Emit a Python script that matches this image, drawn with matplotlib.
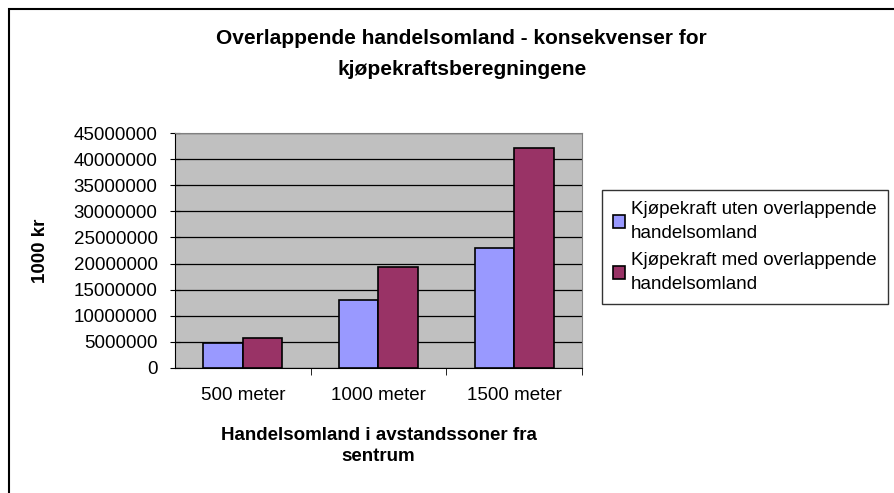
import numpy as np
import matplotlib.pyplot as plt
from matplotlib.patches import Rectangle

plt.rcParams['font.family'] = ['Liberation Sans', 'DejaVu Sans']

# Data
kategorier = ['500 meter', '1000 meter', '1500 meter']
uten_overlapp = [4700000, 13000000, 23000000]
med_overlapp = [5700000, 19400000, 42100000]
serie_navn = ['Kjøpekraft uten overlappende\nhandelsomland',
              'Kjøpekraft med overlappende\nhandelsomland']
y_ticks = np.arange(0, 45000001, 5000000)

# Plotting
fig = plt.figure(figsize=(8.95, 4.93), dpi=100)
ax = fig.add_axes([175 / 895, 1 - 368 / 493, 407 / 895, 235 / 493])

# outer chart frame (right/bottom clipped like the reference)
fig.patches.append(Rectangle((9 / 895, -0.05), 1.0, 1 - 9 / 493 + 0.05,
                             transform=fig.transFigure, fill=False,
                             edgecolor='black', linewidth=1.5))

x = np.arange(len(kategorier))
w = 0.29
ax.bar(x - w / 2, uten_overlapp, w, color='#9999FF', edgecolor='black',
       linewidth=1.2, label=serie_navn[0], zorder=3)
ax.bar(x + w / 2, med_overlapp, w, color='#993366', edgecolor='black',
       linewidth=1.2, label=serie_navn[1], zorder=3)

ax.set_facecolor('#C0C0C0')
ax.set_xlim(-0.5, 2.5)
ax.set_ylim(0, 45000000)
ax.set_yticks(y_ticks)
ax.set_yticklabels([str(v) for v in y_ticks], fontsize=13.5)
ax.yaxis.grid(True, color='black', linewidth=0.9, zorder=1)
ax.set_axisbelow(True)

ax.set_xticks(x)
ax.set_xticklabels(kategorier, fontsize=13.5)
ax.set_xticks([0.5, 1.5, 2.5], minor=True)
ax.tick_params(axis='x', which='major', length=0, pad=14)
ax.tick_params(axis='x', which='minor', length=5, direction='out', color='black')
ax.tick_params(axis='y', length=7, direction='inout', color='black', pad=9)

for s in ['top', 'right']:
    ax.spines[s].set_color('#808080')
for s in ['left', 'bottom']:
    ax.spines[s].set_color('black')

ax.set_ylabel('1000 kr', fontsize=13.5, fontweight='bold', labelpad=18)
ax.set_xlabel('Handelsomland i avstandssoner fra\nsentrum', fontsize=13.5,
              fontweight='bold', labelpad=16, linespacing=1.3)

fig.text(0.516, 1 - 54 / 493, 'Overlappende handelsomland - konsekvenser for\nkjøpekraftsberegningene',
         ha='center', va='center', fontsize=15, fontweight='bold', linespacing=1.85)

leg = ax.legend(loc='upper left', bbox_to_anchor=(602 / 895, 1 - 190 / 493),
                bbox_transform=fig.transFigure, fontsize=13.5, frameon=True,
                fancybox=False, edgecolor='black', handlelength=0.65,
                handleheight=0.65, handletextpad=0.3, borderpad=0.6,
                labelspacing=0.5, borderaxespad=0)
leg.get_frame().set_linewidth(1.0)
for t in leg.get_texts():
    t.set_linespacing(1.55)

fig.savefig('out.png', dpi=100)
